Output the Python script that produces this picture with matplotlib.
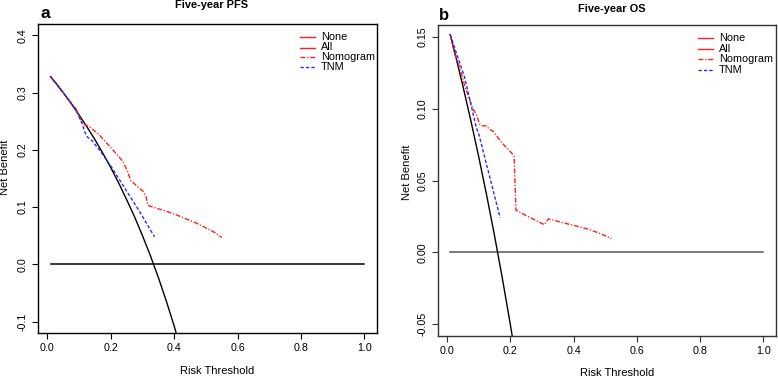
import matplotlib
matplotlib.use("Agg")
import matplotlib.pyplot as plt
from matplotlib.lines import Line2D

plt.rcParams['font.family'] = ['Liberation Sans', 'DejaVu Sans']

# ---------------- data: panel a (Five-year PFS) ----------------
a_none_x = [0.01, 1.0]
a_none_y = [0.0, 0.0]
a_all_x = [0.01, 0.025, 0.05, 0.075, 0.10, 0.125, 0.15, 0.175, 0.20, 0.225, 0.25, 0.275,
           0.30, 0.325, 0.35, 0.375, 0.40, 0.425]
a_all_y = [0.328, 0.318, 0.300, 0.281, 0.261, 0.240, 0.218, 0.194, 0.169, 0.142, 0.113, 0.083,
           0.050, 0.015, -0.023, -0.064, -0.108, -0.157]
a_nomo_x = [0.01, 0.03, 0.05, 0.07, 0.09, 0.106, 0.117, 0.132, 0.164, 0.20, 0.238, 0.253,
            0.264, 0.27, 0.29, 0.301, 0.311, 0.317, 0.35, 0.374, 0.40, 0.437, 0.47, 0.50, 0.53, 0.55]
a_nomo_y = [0.328, 0.314, 0.300, 0.286, 0.272, 0.252, 0.244, 0.241, 0.226, 0.204, 0.180, 0.162,
            0.145, 0.143, 0.133, 0.128, 0.119, 0.103, 0.097, 0.093, 0.088, 0.0795, 0.072, 0.0637, 0.055, 0.047]
a_tnm_x = [0.01, 0.03, 0.05, 0.07, 0.09, 0.106, 0.111, 0.117, 0.127, 0.138, 0.164, 0.20, 0.25, 0.29, 0.338]
a_tnm_y = [0.328, 0.314, 0.300, 0.285, 0.270, 0.250, 0.244, 0.232, 0.222, 0.218, 0.200, 0.172, 0.128, 0.093, 0.048]

# ---------------- data: panel b (Five-year OS) ----------------
b_none_x = [0.01, 1.0]
b_none_y = [0.0, 0.0]
b_all_x = [0.01, 0.025, 0.05, 0.075, 0.10, 0.125, 0.15, 0.175, 0.20, 0.225]
b_all_y = [0.1515, 0.1385, 0.1158, 0.0919, 0.0667, 0.0400, 0.0118, -0.0182, -0.050, -0.0839]
b_nomo_x = [0.01, 0.024, 0.04, 0.056, 0.082, 0.0925, 0.103, 0.113, 0.124, 0.134, 0.145, 0.173,
            0.208, 0.212, 0.218, 0.26, 0.3075, 0.321, 0.36, 0.40, 0.444, 0.48, 0.52]
b_nomo_y = [0.1515, 0.138, 0.1287, 0.1158, 0.0996, 0.0961, 0.0891, 0.088, 0.088, 0.0856, 0.0844, 0.0764,
            0.0682, 0.067, 0.0293, 0.0245, 0.0193, 0.0233, 0.021, 0.0188, 0.0163, 0.0135, 0.0096]
b_tnm_x = [0.01, 0.0557, 0.0925, 0.1007, 0.137, 0.168]
b_tnm_y = [0.1515, 0.1217, 0.0868, 0.0821, 0.0507, 0.024]

a_yticks = [-0.1, 0.0, 0.1, 0.2, 0.3, 0.4]
a_yticklabels = ["-0.1", "0.0", "0.1", "0.2", "0.3", "0.4"]
b_yticks = [-0.05, 0.0, 0.05, 0.10, 0.15]
b_yticklabels = ["-0.05", "0.00", "0.05", "0.10", "0.15"]
xticks = [0.0, 0.2, 0.4, 0.6, 0.8, 1.0]
xticklabels = ["0.0", "0.2", "0.4", "0.6", "0.8", "1.0"]
legend_labels = ["None", "All", "Nomogram", "TNM"]

W, H = 778, 377
fig = plt.figure(figsize=(W / 100, H / 100), dpi=100)


def fx(x):
    return x / W


def fy(y):
    return 1 - y / H


def make_axes(l, r, t, b):
    return fig.add_axes([fx(l), fy(b), fx(r) - fx(l), fy(t) - fy(b)])


RED = '#ff2020'
BLUE = '#2a2aff'
dd = (0, (3.5, 1.3, 0.9, 1.3))
dsh = (0, (2.4, 1.5))


def style(ax, ylim, yticks, yticklabels, edge):
    ax.set_xlim(-0.0296, 1.0396)
    ax.set_ylim(*ylim)
    ax.set_xticks(xticks)
    ax.set_xticklabels(xticklabels)
    ax.set_yticks(yticks)
    ax.set_yticklabels(yticklabels, rotation=90, va='center')
    ax.tick_params(direction='out', length=4.3, width=0.8, labelsize=7.7, pad=3.2, color=edge)
    for s in ax.spines.values():
        s.set_linewidth(1.0)
        s.set_color(edge)


def panel(ax, nx, ny, ax_, ay, mx, my, tx, ty, nonecol):
    ax.plot(nx, ny, color=nonecol, lw=1.1)
    ax.plot(ax_, ay, color='black', lw=1.0)
    ax.plot(mx, my, color=RED, lw=1.0, linestyle=dd)
    ax.plot(tx, ty, color=BLUE, lw=1.0, linestyle=dsh)


def legend(line_x0, line_x1, text_x, rows):
    styles = [('-', RED), ('-', RED), (dd, RED), (dsh, BLUE)]
    for (ls, c), lab, yy in zip(styles, legend_labels, rows):
        fig.add_artist(Line2D([fx(line_x0), fx(line_x1)], [fy(yy), fy(yy)], color=c, lw=1.0,
                              linestyle=ls, transform=fig.transFigure))
        fig.text(fx(text_x), fy(yy), lab, fontsize=7.8, ha='left', va='center')


# ---------------- panel a ----------------
axa = make_axes(38, 377, 24, 333)
panel(axa, a_none_x, a_none_y, a_all_x, a_all_y, a_nomo_x, a_nomo_y, a_tnm_x, a_tnm_y, 'black')
style(axa, (-0.12, 0.42), a_yticks, a_yticklabels, 'black')
legend(300, 315, 321, [37, 47.5, 56.5, 66.5])
fig.text(fx(211.7), fy(8.5), "Five-year PFS", fontsize=7.9, fontweight='bold', ha='center', va='baseline')
fig.text(fx(40.5), fy(18.3), "a", fontsize=12.5, fontweight='bold', ha='left', va='baseline')
fig.text(fx(217.5), fy(374), "Risk Threshold", fontsize=8, ha='center', va='baseline')
fig.text(fx(5), fy(167), "Net Benefit", fontsize=8, rotation=90, ha='center', va='center')

# ---------------- panel b ----------------
axb = make_axes(437.7, 775.7, 25.3, 335.7)
panel(axb, b_none_x, b_none_y, b_all_x, b_all_y, b_nomo_x, b_nomo_y, b_tnm_x, b_tnm_y, '#555555')
style(axb, (-0.058, 0.158), b_yticks, b_yticklabels, '#333333')
legend(697.5, 712.5, 719, [38, 49.3, 59.3, 70])
fig.text(fx(611.5), fy(11.7), "Five-year OS", fontsize=7.9, fontweight='bold', ha='center', va='baseline')
fig.text(fx(439), fy(20), "b", fontsize=12, fontweight='bold', ha='left', va='baseline')
fig.text(fx(617), fy(376), "Risk Threshold", fontsize=8, ha='center', va='baseline')
fig.text(fx(407), fy(172), "Net Benefit", fontsize=8, rotation=90, ha='center', va='center')

fig.savefig("out.png", dpi=100)
